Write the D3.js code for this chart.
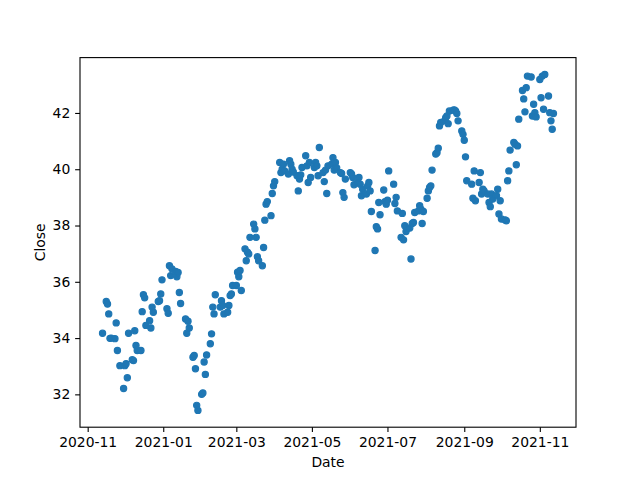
<!DOCTYPE html>
<html><head><meta charset="utf-8">
<script src="https://cdn.jsdelivr.net/npm/d3@7"></script>
<style>body{margin:0;background:#fff}</style>
</head><body>
<svg id="chart" width="640" height="480"></svg>
<script>
const dates = [
"2020-11-13","2020-11-16","2020-11-17","2020-11-18","2020-11-19","2020-11-20","2020-11-23","2020-11-24","2020-11-25","2020-11-27","2020-11-30",
"2020-12-01","2020-12-02","2020-12-03","2020-12-04","2020-12-07","2020-12-08","2020-12-09","2020-12-10","2020-12-11","2020-12-14","2020-12-15","2020-12-16","2020-12-17","2020-12-18","2020-12-21","2020-12-22","2020-12-23","2020-12-24","2020-12-28","2020-12-29","2020-12-30","2020-12-31",
"2021-01-04","2021-01-05","2021-01-06","2021-01-07","2021-01-08","2021-01-11","2021-01-12","2021-01-13","2021-01-14","2021-01-15","2021-01-19","2021-01-20","2021-01-21","2021-01-22","2021-01-25","2021-01-26","2021-01-27","2021-01-28","2021-01-29",
"2021-02-01","2021-02-02","2021-02-03","2021-02-04","2021-02-05","2021-02-08","2021-02-09","2021-02-10","2021-02-11","2021-02-12","2021-02-16","2021-02-17","2021-02-18","2021-02-19","2021-02-22","2021-02-23","2021-02-24","2021-02-25","2021-02-26",
"2021-03-01","2021-03-02","2021-03-03","2021-03-04","2021-03-05","2021-03-08","2021-03-09","2021-03-10","2021-03-11","2021-03-12","2021-03-15","2021-03-16","2021-03-17","2021-03-18","2021-03-19","2021-03-22","2021-03-23","2021-03-24","2021-03-25","2021-03-26","2021-03-29","2021-03-30","2021-03-31",
"2021-04-01","2021-04-05","2021-04-06","2021-04-07","2021-04-08","2021-04-09","2021-04-12","2021-04-13","2021-04-14","2021-04-15","2021-04-16","2021-04-19","2021-04-20","2021-04-21","2021-04-22","2021-04-23","2021-04-26","2021-04-27","2021-04-28","2021-04-29","2021-04-30",
"2021-05-03","2021-05-04","2021-05-05","2021-05-06","2021-05-07","2021-05-10","2021-05-11","2021-05-12","2021-05-13","2021-05-14","2021-05-17","2021-05-18","2021-05-19","2021-05-20","2021-05-21","2021-05-24","2021-05-25","2021-05-26","2021-05-27","2021-05-28",
"2021-06-01","2021-06-02","2021-06-03","2021-06-04","2021-06-07","2021-06-08","2021-06-09","2021-06-10","2021-06-11","2021-06-14","2021-06-15","2021-06-16","2021-06-17","2021-06-18","2021-06-21","2021-06-22","2021-06-23","2021-06-24","2021-06-25","2021-06-28","2021-06-29","2021-06-30",
"2021-07-01","2021-07-02","2021-07-06","2021-07-07","2021-07-08","2021-07-09","2021-07-12","2021-07-13","2021-07-14","2021-07-15","2021-07-16","2021-07-19","2021-07-20","2021-07-21","2021-07-22","2021-07-23","2021-07-26","2021-07-27","2021-07-28","2021-07-29","2021-07-30",
"2021-08-02","2021-08-03","2021-08-04","2021-08-05","2021-08-06","2021-08-09","2021-08-10","2021-08-11","2021-08-12","2021-08-13","2021-08-16","2021-08-17","2021-08-18","2021-08-19","2021-08-20","2021-08-23","2021-08-24","2021-08-25","2021-08-26","2021-08-27","2021-08-30","2021-08-31",
"2021-09-01","2021-09-02","2021-09-03","2021-09-07","2021-09-08","2021-09-09","2021-09-10","2021-09-13","2021-09-14","2021-09-15","2021-09-16","2021-09-17","2021-09-20","2021-09-21","2021-09-22","2021-09-23","2021-09-24","2021-09-27","2021-09-28","2021-09-29","2021-09-30",
"2021-10-01","2021-10-04","2021-10-05","2021-10-06","2021-10-07","2021-10-08","2021-10-11","2021-10-12","2021-10-13","2021-10-14","2021-10-15","2021-10-18","2021-10-19","2021-10-20","2021-10-21","2021-10-22","2021-10-25","2021-10-26","2021-10-27","2021-10-28","2021-10-29",
"2021-11-01","2021-11-02","2021-11-03","2021-11-04","2021-11-05","2021-11-08","2021-11-09","2021-11-10","2021-11-11","2021-11-12"
];
const closes = [
34.17,35.30,35.21,34.86,33.99,34.00,33.98,34.54,33.56,33.02,32.21,
33.02,33.09,32.59,34.17,33.23,33.20,34.26,33.74,33.56,33.56,34.94,35.54,35.43,34.45,34.62,34.36,35.10,34.92,35.30,35.33,35.57,36.07,
35.04,34.88,36.57,36.22,36.46,36.37,36.18,36.33,35.62,35.23,34.68,34.17,34.60,34.36,33.32,33.38,32.91,31.61,31.43,
32.00,32.05,33.15,32.71,33.40,33.80,34.15,35.10,34.86,35.54,35.10,35.33,35.16,34.86,34.92,35.16,35.51,35.57,35.87,
35.87,36.34,36.18,36.40,35.69,37.17,36.75,37.05,36.99,37.58,38.05,37.88,37.58,36.89,36.75,36.57,37.22,38.19,38.76,38.85,38.35,39.14,39.41,
39.56,40.24,39.88,40.00,40.18,39.94,39.83,40.30,40.18,40.00,39.90,39.77,39.23,39.65,39.80,40.06,40.48,40.12,39.53,40.24,39.71,
40.06,40.24,40.12,39.77,40.77,39.88,39.56,39.97,39.14,40.12,40.18,40.41,39.97,40.24,40.05,39.88,39.85,39.17,39.00,39.65,
39.88,39.83,39.71,39.45,39.53,39.71,39.47,39.06,39.29,39.12,39.41,39.53,39.23,38.50,37.11,37.96,37.88,38.82,38.38,39.26,38.85,38.76,
38.90,39.94,39.47,38.78,39.00,38.52,37.58,38.43,37.49,37.99,37.79,37.91,36.81,38.07,38.11,38.46,38.52,38.70,38.58,38.07,38.50,
38.97,39.23,39.35,39.41,39.97,40.54,40.59,40.75,41.54,41.66,41.72,41.83,41.89,41.62,42.07,42.10,42.11,42.07,41.98,41.72,41.36,41.24,
41.03,40.44,39.59,39.47,38.97,39.94,38.88,39.53,39.88,39.12,39.29,39.23,39.12,38.82,38.67,39.12,38.94,39.06,39.29,38.41,38.88,
38.23,38.20,38.17,39.59,39.94,40.68,40.95,40.89,40.16,40.83,41.78,42.80,42.50,42.04,42.90,43.31,43.28,41.89,42.31,42.01,41.86,
43.19,42.54,43.31,42.13,43.37,42.60,42.01,41.72,41.42,41.98
];
const xTickLabels = ["2020-11","2021-01","2021-03","2021-05","2021-07","2021-09","2021-11"];
const yTickValues = [32,34,36,38,40,42];
const xLabel = "Date";
const yLabel = "Close";

const W = 640, H = 480;
const L = 80, R = 576, T = 57.6, B = 427.2;
const parse = d3.utcParse("%Y-%m-%d");
const pts = dates.map((d,i)=>({date: parse(d), close: closes[i]}));

const xExt = d3.extent(pts, d=>+d.date);
const xPad = (xExt[1]-xExt[0])*0.05;
const x = d3.scaleUtc().domain([new Date(xExt[0]-xPad), new Date(xExt[1]+xPad)]).range([L, R]);
const yExt = d3.extent(pts, d=>d.close);
const yPad = (yExt[1]-yExt[0])*0.05;
const y = d3.scaleLinear().domain([yExt[0]-yPad, yExt[1]+yPad]).range([B, T]);

const svg = d3.select("#chart");
svg.append("rect").attr("width",W).attr("height",H).attr("fill","#fff");
const font = "DejaVu Sans, sans-serif";
const tickLen = 4.86, pad = 4.86, fs = 13.9;

const xTicks = xTickLabels.map(s => d3.utcParse("%Y-%m")(s));
const gx = svg.append("g").attr("transform",`translate(0,${B})`)
  .call(d3.axisBottom(x).tickValues(xTicks).tickFormat(d3.utcFormat("%Y-%m")).tickSize(tickLen).tickPadding(pad));
const gy = svg.append("g").attr("transform",`translate(${L},0)`)
  .call(d3.axisLeft(y).tickValues(yTickValues).tickFormat(d3.format("d")).tickSize(tickLen).tickPadding(pad));
[gx, gy].forEach(g=>{
  g.select(".domain").remove();
  g.selectAll(".tick line").attr("stroke","#000").attr("stroke-width",1.1);
  g.selectAll(".tick text").attr("fill","#000").style("font-family",font).style("font-size",fs+"px");
});

svg.append("g").selectAll("circle").data(pts).join("circle")
  .attr("cx", d=>x(d.date)).attr("cy", d=>y(d.close)).attr("r", 3.1)
  .attr("fill","#1f77b4").attr("stroke","#1f77b4").attr("stroke-width",1.2);

svg.append("rect").attr("x",L).attr("y",T).attr("width",R-L).attr("height",B-T)
  .attr("fill","none").attr("stroke","#000").attr("stroke-width",1.1);

svg.append("text").attr("x",(L+R)/2).attr("y",467).attr("text-anchor","middle")
  .style("font-family",font).style("font-size",fs+"px").attr("fill","#000").text(xLabel);
svg.append("text").attr("transform",`translate(45,${(T+B)/2}) rotate(-90)`).attr("text-anchor","middle")
  .style("font-family",font).style("font-size",fs+"px").attr("fill","#000").text(yLabel);
</script>
</body></html>
